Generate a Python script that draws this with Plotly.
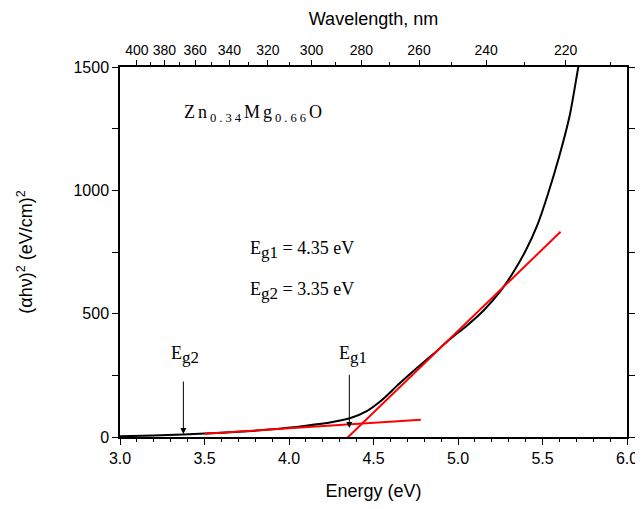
import plotly.graph_objects as go

# Absorption curve (alpha*h*nu)^2 vs photon energy
energy = [3.0, 3.2, 3.375, 3.5, 3.7, 3.9, 4.1, 4.25, 4.36, 4.46, 4.55, 4.65, 4.75, 4.85,
          4.95, 5.05, 5.15, 5.25, 5.32, 5.4, 5.47, 5.53, 5.6, 5.66, 5.712, 5.74]
absorb = [3, 6, 10, 14, 21, 31, 46, 60, 76, 105, 150, 215, 276, 334,
          395, 450, 512, 590, 660, 755, 860, 980, 1140, 1300, 1500, 1600]

# Linear fits (tangent lines)
fit1_x = [4.32, 5.607]
fit1_y = [-20, 832]
fit2_x = [3.5, 4.78]
fit2_y = [13, 70]

# Top axis: wavelength ticks
wl_major = [400, 380, 360, 340, 320, 300, 280, 260, 240, 220]
wl_minor = [390, 370, 350, 330, 310, 290, 270, 250, 230, 210]

# Band-gap markers
eg_labels = ["g2", "g1"]
eg_x = [3.375, 4.357]
eg_tip = [12, 36]
eg_tail = [231, 258]
label_x = [3.385, 4.379]
label_y = [331, 331]

FONT = "Liberation Sans, Arial, sans-serif"
SERIF = "Liberation Serif, Times New Roman, serif"

fig = go.Figure()
fig.add_trace(go.Scatter(x=energy, y=absorb, mode="lines",
                         line=dict(color="black", width=2, shape="spline", smoothing=0.8),
                         showlegend=False, hoverinfo="skip"))
fig.add_trace(go.Scatter(x=fit1_x, y=fit1_y, mode="lines",
                         line=dict(color="#ff0000", width=2), showlegend=False,
                         hoverinfo="skip", cliponaxis=False))
fig.add_trace(go.Scatter(x=fit2_x, y=fit2_y, mode="lines",
                         line=dict(color="#ff0000", width=2), showlegend=False,
                         hoverinfo="skip"))
# invisible trace to activate the top axis
fig.add_trace(go.Scatter(x=energy, y=absorb, xaxis="x2", mode="lines",
                         line=dict(width=0), opacity=0, showlegend=False,
                         hoverinfo="skip"))

tick_major = [1240.0 / w for w in wl_major]
tick_minor = [1240.0 / w for w in wl_minor]

fig.update_layout(
    width=635, height=501,
    margin=dict(l=112, r=16, t=59, b=72, autoexpand=False),
    paper_bgcolor="white", plot_bgcolor="white",
    font=dict(family=FONT, color="black", size=16),
    xaxis=dict(range=[3, 6], dtick=0.5, tick0=3, tickformat=".1f", automargin=False,
               showgrid=False, zeroline=False,
               showline=True, linecolor="black", linewidth=1.5, mirror=True,
               ticks="outside", ticklen=6, tickwidth=1.2, tickcolor="black",
               minor=dict(dtick=0.1, ticks="outside", ticklen=3, tickwidth=1,
                          tickcolor="black", showgrid=False),
               tickfont=dict(size=16),
               title=dict(text="Energy (eV)", font=dict(size=18), standoff=18)),
    xaxis2=dict(range=[3, 6], overlaying="x", side="top", anchor="y", automargin=False,
                tickmode="array", tickvals=tick_major,
                ticktext=[str(w) for w in wl_major],
                showgrid=False, zeroline=False, showline=True,
                linecolor="black", linewidth=1.5,
                ticks="outside", ticklen=5, tickwidth=1.2, tickcolor="black",
                minor=dict(tickmode="array", tickvals=tick_minor, ticks="outside",
                           ticklen=3, tickwidth=1, tickcolor="black",
                           showgrid=False),
                tickfont=dict(size=14),
                title=dict(text="Wavelength, nm", font=dict(size=18), standoff=11)),
    yaxis=dict(range=[0, 1500], dtick=500, showgrid=False, zeroline=False, automargin=False,
               showline=True, linecolor="black", linewidth=1.5, mirror="allticks",
               ticks="outside", ticklen=6, tickwidth=1.2, tickcolor="black",
               minor=dict(dtick=250, ticks="outside", ticklen=3, tickwidth=1,
                          tickcolor="black", showgrid=False),
               tickfont=dict(size=16),
               title=dict(text="(\u03b1h\u03bd)<sup>2</sup> (eV/cm)<sup>2</sup>",
                          font=dict(size=18), standoff=36)),
)

SUB = '<sub><span style="font-size:17px">{}</span></sub>'

annotations = [
    dict(x=3.367, y=1313, xref="x", yref="y", xanchor="left", yanchor="middle",
         showarrow=False,
         text='<span style="letter-spacing:3px">Zn<sub>0.34</sub>Mg<sub>0.66</sub>O</span>',
         font=dict(family=SERIF, size=18)),
    dict(x=3.757, y=760, xref="x", yref="y", xanchor="left", yanchor="middle",
         showarrow=False, text="E" + SUB.format("g1") + " = 4.35 eV",
         font=dict(family=SERIF, size=18)),
    dict(x=3.757, y=590, xref="x", yref="y", xanchor="left", yanchor="middle",
         showarrow=False, text="E" + SUB.format("g2") + " = 3.35 eV",
         font=dict(family=SERIF, size=18)),
]
for lbl, lx, ly, xx, tip, tail in zip(eg_labels, label_x, label_y, eg_x, eg_tip, eg_tail):
    annotations.append(dict(x=lx, y=ly, xref="x", yref="y",
                            xanchor="center", yanchor="middle", showarrow=False,
                            text="E" + SUB.format(lbl), font=dict(family=SERIF, size=18)))
    annotations.append(dict(x=xx, y=tip, ax=xx, ay=tail, xref="x", yref="y",
                            axref="x", ayref="y", text="", showarrow=True,
                            arrowhead=2, arrowsize=1.2, arrowwidth=1,
                            arrowcolor="black"))
fig.update_layout(annotations=annotations)

fig.write_html("out.html")
